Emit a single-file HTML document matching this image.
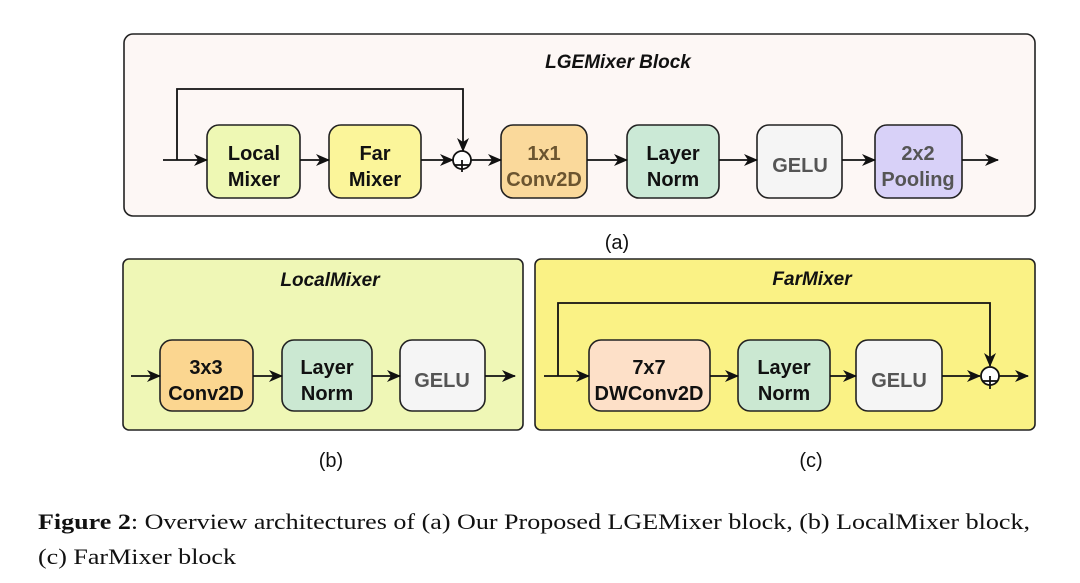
<!DOCTYPE html>
<html><head><meta charset="utf-8"><style>
html,body{margin:0;padding:0;background:#fff;width:1080px;height:583px;overflow:hidden}
.s{font-family:"Liberation Sans",sans-serif}
.cap{font-family:"Liberation Serif",serif}
</style></head><body>
<svg width="1080" height="583" viewBox="0 0 1080 583" xmlns="http://www.w3.org/2000/svg">
<defs>
<marker id="ar" markerWidth="14" markerHeight="12" refX="13" refY="6" orient="auto" markerUnits="userSpaceOnUse">
<path d="M0,0 L14,6 L0,12 L4,6 Z" fill="#111"/></marker>
</defs>
<g stroke="#222" stroke-width="1.6">
<rect x="124" y="34" width="911" height="182" rx="9" fill="#fdf7f5"/>
<rect x="123" y="259" width="400" height="171" rx="6" fill="#eff7b6"/>
<rect x="535" y="259" width="500" height="171" rx="6" fill="#faf285"/>
</g>
<g class="s" font-weight="bold" font-style="italic" font-size="19" text-anchor="middle" fill="#111">
<text x="618" y="68">LGEMixer Block</text>
<text x="330" y="286">LocalMixer</text>
<text x="812" y="285">FarMixer</text>
</g>
<g stroke="#222" stroke-width="1.6">
<rect x="207" y="125" width="93" height="73" rx="12" fill="#eef8b4"/>
<rect x="329" y="125" width="92" height="73" rx="12" fill="#fbf59a"/>
<rect x="501" y="125" width="86" height="73" rx="12" fill="#fad99b"/>
<rect x="627" y="125" width="92" height="73" rx="12" fill="#cbe9d6"/>
<rect x="757" y="125" width="85" height="73" rx="12" fill="#f5f5f5"/>
<rect x="875" y="125" width="87" height="73" rx="12" fill="#d8d1f8"/>
<rect x="160" y="340" width="93" height="71" rx="12" fill="#fbd690"/>
<rect x="282" y="340" width="90" height="71" rx="12" fill="#cbe8d2"/>
<rect x="400" y="340" width="85" height="71" rx="12" fill="#f5f5f5"/>
<rect x="589" y="340" width="121" height="71" rx="12" fill="#fde0c8"/>
<rect x="738" y="340" width="92" height="71" rx="12" fill="#cbe8d2"/>
<rect x="856" y="340" width="86" height="71" rx="12" fill="#f5f5f5"/>
</g>
<g stroke="#111" stroke-width="1.8" fill="none">
<line x1="163" y1="160" x2="207" y2="160" marker-end="url(#ar)"/>
<polyline points="177,160 177,89 463,89 463,151" marker-end="url(#ar)"/>
<line x1="300" y1="160" x2="329" y2="160" marker-end="url(#ar)"/>
<line x1="421" y1="160" x2="453" y2="160" marker-end="url(#ar)"/>
<circle cx="462" cy="160" r="9" fill="#fff"/>
<line x1="462" y1="160" x2="462" y2="172"/><line x1="455" y1="165" x2="469" y2="165"/>
<line x1="471" y1="160" x2="501" y2="160" marker-end="url(#ar)"/>
<line x1="587" y1="160" x2="627" y2="160" marker-end="url(#ar)"/>
<line x1="719" y1="160" x2="757" y2="160" marker-end="url(#ar)"/>
<line x1="842" y1="160" x2="875" y2="160" marker-end="url(#ar)"/>
<line x1="962" y1="160" x2="998" y2="160" marker-end="url(#ar)"/>
<line x1="131" y1="376" x2="160" y2="376" marker-end="url(#ar)"/>
<line x1="253" y1="376" x2="282" y2="376" marker-end="url(#ar)"/>
<line x1="372" y1="376" x2="400" y2="376" marker-end="url(#ar)"/>
<line x1="485" y1="376" x2="515" y2="376" marker-end="url(#ar)"/>
<line x1="544" y1="376" x2="589" y2="376" marker-end="url(#ar)"/>
<polyline points="558,376 558,303 990,303 990,366" marker-end="url(#ar)"/>
<line x1="710" y1="376" x2="738" y2="376" marker-end="url(#ar)"/>
<line x1="830" y1="376" x2="856" y2="376" marker-end="url(#ar)"/>
<line x1="942" y1="376" x2="980" y2="376" marker-end="url(#ar)"/>
<circle cx="990" cy="376" r="9" fill="#fff"/>
<line x1="990" y1="376" x2="990" y2="389"/><line x1="983" y1="381" x2="997" y2="381"/>
<line x1="999" y1="376" x2="1028" y2="376" marker-end="url(#ar)"/>
</g>
<g class="s" font-weight="bold" font-size="20" text-anchor="middle" fill="#111">
<text x="254" y="160">Local</text><text x="254" y="186">Mixer</text>
<text x="375" y="160">Far</text><text x="375" y="186">Mixer</text>
<text x="544" y="160" fill="#6b5530">1x1</text><text x="544" y="186" fill="#6b5530">Conv2D</text>
<text x="673" y="160">Layer</text><text x="673" y="186">Norm</text>
<text x="800" y="172" fill="#555">GELU</text>
<text x="918" y="160" fill="#555">2x2</text><text x="918" y="186" fill="#555">Pooling</text>
<text x="206" y="374">3x3</text><text x="206" y="400">Conv2D</text>
<text x="327" y="374">Layer</text><text x="327" y="400">Norm</text>
<text x="442" y="387" fill="#555">GELU</text>
<text x="649" y="374">7x7</text><text x="649" y="400">DWConv2D</text>
<text x="784" y="374">Layer</text><text x="784" y="400">Norm</text>
<text x="899" y="387" fill="#555">GELU</text>
</g>
<g class="s" font-size="20" text-anchor="middle" fill="#111">
<text x="617" y="249">(a)</text>
<text x="331" y="467">(b)</text>
<text x="811" y="467">(c)</text>
</g>
<g class="cap" font-size="22" fill="#111">
<text x="38" y="529" textLength="992" lengthAdjust="spacingAndGlyphs"><tspan font-weight="bold">Figure 2</tspan>: Overview architectures of (a) Our Proposed LGEMixer block, (b) LocalMixer block,</text>
<text x="38" y="564" textLength="198" lengthAdjust="spacingAndGlyphs">(c) FarMixer block</text>
</g>
</svg>
</body></html>
